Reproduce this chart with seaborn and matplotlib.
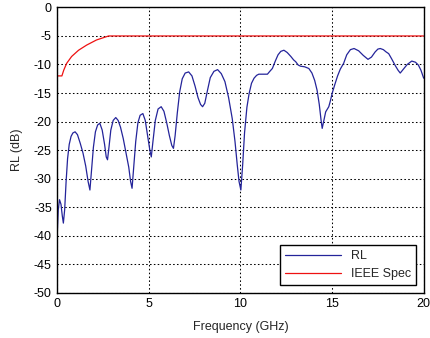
import numpy as np
import pandas as pd
import matplotlib
matplotlib.use('Agg')
import matplotlib.pyplot as plt
import seaborn as sns

# measured return loss
freq_rl = [0.00, 0.05, 0.12, 0.20, 0.27, 0.33, 0.40, 0.48, 0.56, 0.65, 0.75, 0.85, 0.97,
           1.10, 1.25, 1.40, 1.55, 1.68, 1.78, 1.87, 1.97, 2.08, 2.20, 2.32, 2.45, 2.58,
           2.67, 2.74, 2.82, 2.92, 3.05, 3.19, 3.32, 3.45, 3.60, 3.75, 3.90, 4.00, 4.08,
           4.17, 4.28, 4.40, 4.52, 4.67, 4.80, 4.93, 5.05, 5.13, 5.22, 5.35, 5.50, 5.67,
           5.82, 5.97, 6.12, 6.25, 6.34, 6.43, 6.55, 6.68, 6.82, 6.98, 7.17, 7.35, 7.52,
           7.68, 7.82, 7.93, 8.05, 8.20, 8.35, 8.55, 8.75, 8.95, 9.15, 9.35, 9.55, 9.70,
           9.82, 9.92, 10.02, 10.12, 10.22, 10.35, 10.47, 10.60, 10.74, 10.88, 11.00,
           11.25, 11.47, 11.60, 11.74, 11.90, 12.05, 12.20, 12.37, 12.55, 12.75, 12.90,
           13.01, 13.15, 13.28, 13.50, 13.73, 13.90, 14.05, 14.18, 14.30, 14.40, 14.46,
           14.55, 14.65, 14.82, 14.92, 15.00, 15.15, 15.30, 15.45, 15.63, 15.80, 16.00,
           16.20, 16.45, 16.70, 16.96, 17.15, 17.35, 17.50, 17.63, 17.80, 17.95, 18.09,
           18.25, 18.45, 18.60, 18.72, 18.90, 19.10, 19.35, 19.55, 19.71, 19.85, 20.00]
rl_db = [-39.5, -35.5, -33.7, -34.5, -36.5, -37.8, -35.5, -30.5, -26.5, -24.0, -22.6, -22.0, -21.8,
         -22.3, -23.8, -25.5, -27.8, -30.5, -32.0, -28.5, -24.5, -21.8, -20.6, -20.3, -21.5, -24.0,
         -26.2, -26.7, -24.5, -21.5, -19.8, -19.3, -19.8, -21.0, -23.0, -25.5, -28.0, -30.5, -31.7,
         -28.0, -23.5, -20.2, -18.9, -18.6, -19.8, -22.5, -25.0, -26.2, -23.5, -19.8, -17.8, -17.4,
         -18.2, -20.2, -22.5, -24.2, -24.7, -22.5, -18.5, -14.8, -12.5, -11.5, -11.3, -12.0, -13.8,
         -15.8, -17.0, -17.4, -16.8, -14.5, -12.3, -11.2, -10.9, -11.6, -13.0, -15.8, -19.5, -23.5,
         -27.5, -30.5, -32.0, -27.5, -22.0, -17.5, -15.1, -13.3, -12.4, -11.9, -11.7,
         -11.7, -11.7, -11.2, -10.7, -9.4, -8.3, -7.7, -7.5, -7.9, -8.6, -9.2,
         -9.5, -10.1, -10.3, -10.4, -10.7, -11.5, -12.8, -14.5, -17.0, -19.8, -21.2,
         -19.8, -18.3, -17.4, -16.2, -15.1, -13.5, -12.0, -10.8, -9.8, -8.3, -7.4,
         -7.2, -7.6, -8.4, -9.1, -8.7, -7.8, -7.3, -7.2, -7.4, -7.8, -8.1,
         -9.0, -10.2, -11.0, -11.5, -10.8, -10.0, -9.4, -9.6, -10.1, -11.0, -12.4]

# IEEE spec limit
freq_spec = [0.0, 0.25, 0.35, 0.51, 0.78, 1.16, 1.6, 2.14, 2.8, 20.0]
spec_db = [-12.0, -12.0, -11.0, -9.8, -8.6, -7.5, -6.6, -5.7, -5.0, -5.0]

x_ticks = [0, 5, 10, 15, 20]
y_ticks = list(range(-50, 1, 5))

sns.set_style('white')
plt.rcParams['font.family'] = ['Liberation Sans', 'DejaVu Sans']
plt.rcParams['axes.unicode_minus'] = False

fig = plt.figure(figsize=(4.3, 3.38), dpi=100)
ax = fig.add_axes([0.1333, 0.134, 0.852, 0.844])

sns.lineplot(x=freq_rl, y=rl_db, ax=ax, color='#24249a', lw=0.9, label='RL', sort=False)
sns.lineplot(x=freq_spec, y=spec_db, ax=ax, color='#ee1111', lw=0.9, label='IEEE Spec', sort=False)

ax.set_xlim(0, 20)
ax.set_ylim(-50, 0)
ax.set_xticks(x_ticks)
ax.set_yticks(y_ticks)
ax.set_xticklabels([str(t) for t in x_ticks], fontsize=9)
ax.set_yticklabels([str(t) for t in y_ticks], fontsize=9)
ax.grid(True, color='black', linestyle=(0, (1.5, 2.2)), linewidth=0.75)
ax.tick_params(direction='in', length=3, width=0.8, pad=4, colors='black')
for s in ax.spines.values():
    s.set_color('black')
    s.set_linewidth(1.0)
ax.set_xlabel('Frequency (GHz)', fontsize=9, labelpad=8)
ax.set_ylabel('RL (dB)', fontsize=9, labelpad=8)

leg = ax.legend(loc='lower right', fontsize=9, handlelength=4.5, frameon=True,
                fancybox=False, framealpha=1, edgecolor='black', borderaxespad=0.6)
leg.get_frame().set_linewidth(1.0)

fig.savefig('out.png', dpi=100)
